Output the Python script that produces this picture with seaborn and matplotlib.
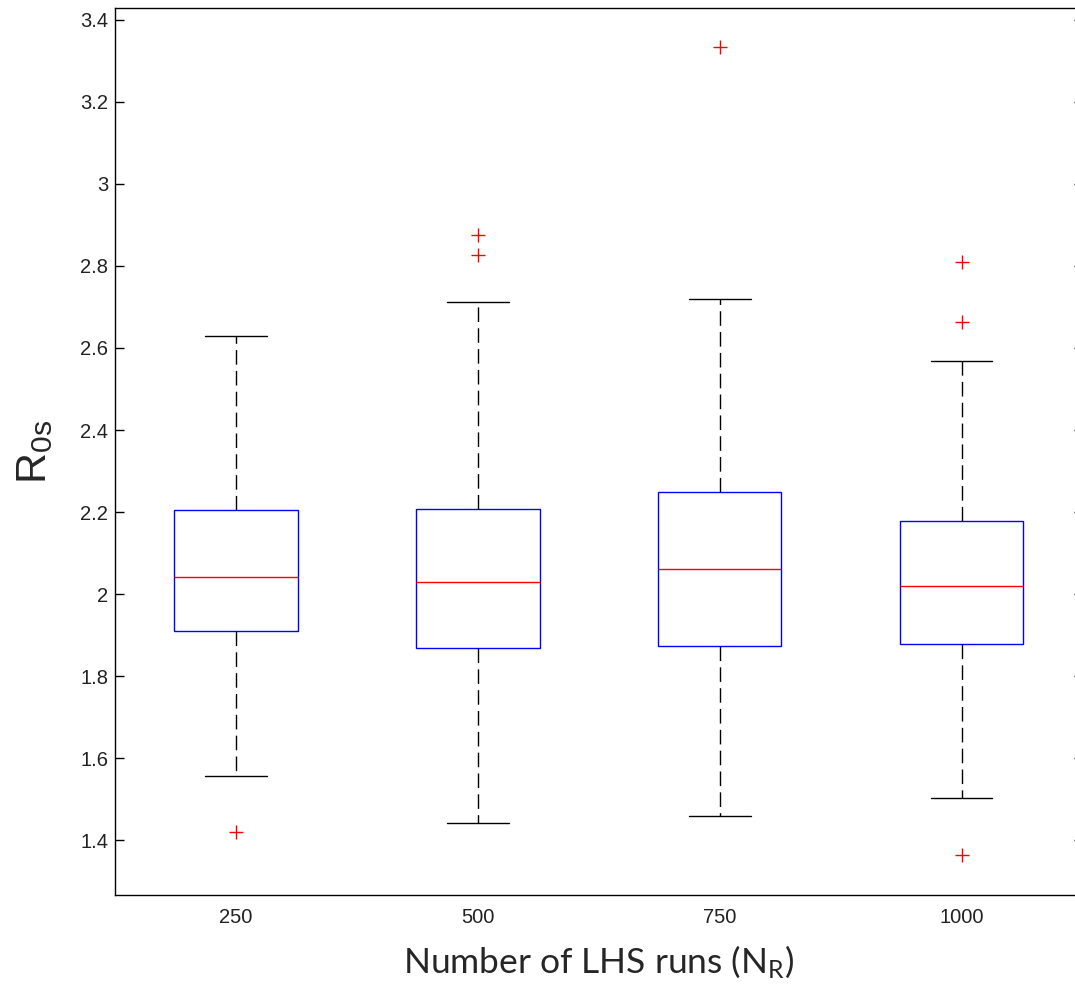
import numpy as np
import pandas as pd
import matplotlib
matplotlib.use("Agg")
import matplotlib.pyplot as plt
import seaborn as sns
from matplotlib.ticker import FuncFormatter

# ---- data (box-plot summary statistics) ----
runs = ["250", "500", "750", "1000"]
whisker_low = [1.556, 1.441, 1.459, 1.502]
q1 = [1.910, 1.868, 1.873, 1.878]
median = [2.041, 2.029, 2.061, 2.020]
q3 = [2.205, 2.207, 2.249, 2.178]
whisker_high = [2.629, 2.712, 2.720, 2.568]
outliers_low = [[1.420], [], [], [1.363]]
outliers_high = [[], [2.827, 2.876], [3.334], [2.663, 2.810]]
yticks = [1.4, 1.6, 1.8, 2.0, 2.2, 2.4, 2.6, 2.8, 3.0, 3.2, 3.4]


def sample_from_stats(lo_out, wl, a, m, b, wh, hi_out, k=4):
    """Build a 4k+1 point sample whose quartiles/whiskers equal the stats."""
    lower = list(lo_out) + [wl]
    lower += [a] * (k + 1 - len(lower))          # indices 0..k (q1 at k)
    middle = [m] * (2 * k - 1)                   # indices k+1..3k-1 (median at 2k)
    upper = [wh] + list(hi_out)
    upper = [b] * (k + 1 - len(upper)) + upper   # indices 3k..4k (q3 at 3k)
    return lower + middle + upper


rows = []
for i, r in enumerate(runs):
    vals = sample_from_stats(outliers_low[i], whisker_low[i], q1[i], median[i],
                             q3[i], whisker_high[i], outliers_high[i])
    rows += [(r, v) for v in vals]
df = pd.DataFrame(rows, columns=["runs", "R0s"])

sns.set_theme(style="white")
plt.rcParams["font.family"] = ["Liberation Sans", "DejaVu Sans"]

fig = plt.figure(figsize=(10.75, 9.99), dpi=100)
ax = fig.add_axes([0.107, 0.104, 0.9, 0.888])

sns.boxplot(
    data=df, x="runs", y="R0s", order=runs, ax=ax,
    width=0.51, whis=1.5, fill=True, linewidth=1.0,
    boxprops=dict(facecolor="none", edgecolor="#0000ff", linewidth=1.0),
    medianprops=dict(color="#ff0000", linewidth=1.0),
    whiskerprops=dict(color="black", linewidth=1.0, linestyle=(0, (10.5, 4.5))),
    capprops=dict(color="black", linewidth=1.0),
    flierprops=dict(marker="+", markeredgecolor="#ff0000", markerfacecolor="none",
                    markersize=9.5, markeredgewidth=1.0, linestyle="none"),
)

ax.set_xlim(-0.5, 3.5)
ax.set_ylim(1.266, 3.429)
ax.set_yticks(yticks)
ax.yaxis.set_major_formatter(FuncFormatter(lambda v, p: f"{v:g}"))

for s in ax.spines.values():
    s.set_visible(True)
    s.set_color("black")
    s.set_linewidth(1.0)

ax.tick_params(axis="y", which="both", direction="in", length=6.5, width=1.0,
               left=True, right=True, labelsize=14.5, colors="black", pad=5,
               labelcolor="#222222")
ax.tick_params(axis="x", length=0, labelsize=14.5, pad=9, labelcolor="#222222")

ax.set_xlabel(r"Number of LHS runs ($\mathregular{N_R}$)", fontsize=25.5,
              family=["Lato", "DejaVu Sans"], labelpad=12)
ax.set_ylabel(r"$\mathregular{R_{0s}}$", fontsize=31, labelpad=18)
ax.grid(False)

fig.savefig("out.png", dpi=100, facecolor="white")
